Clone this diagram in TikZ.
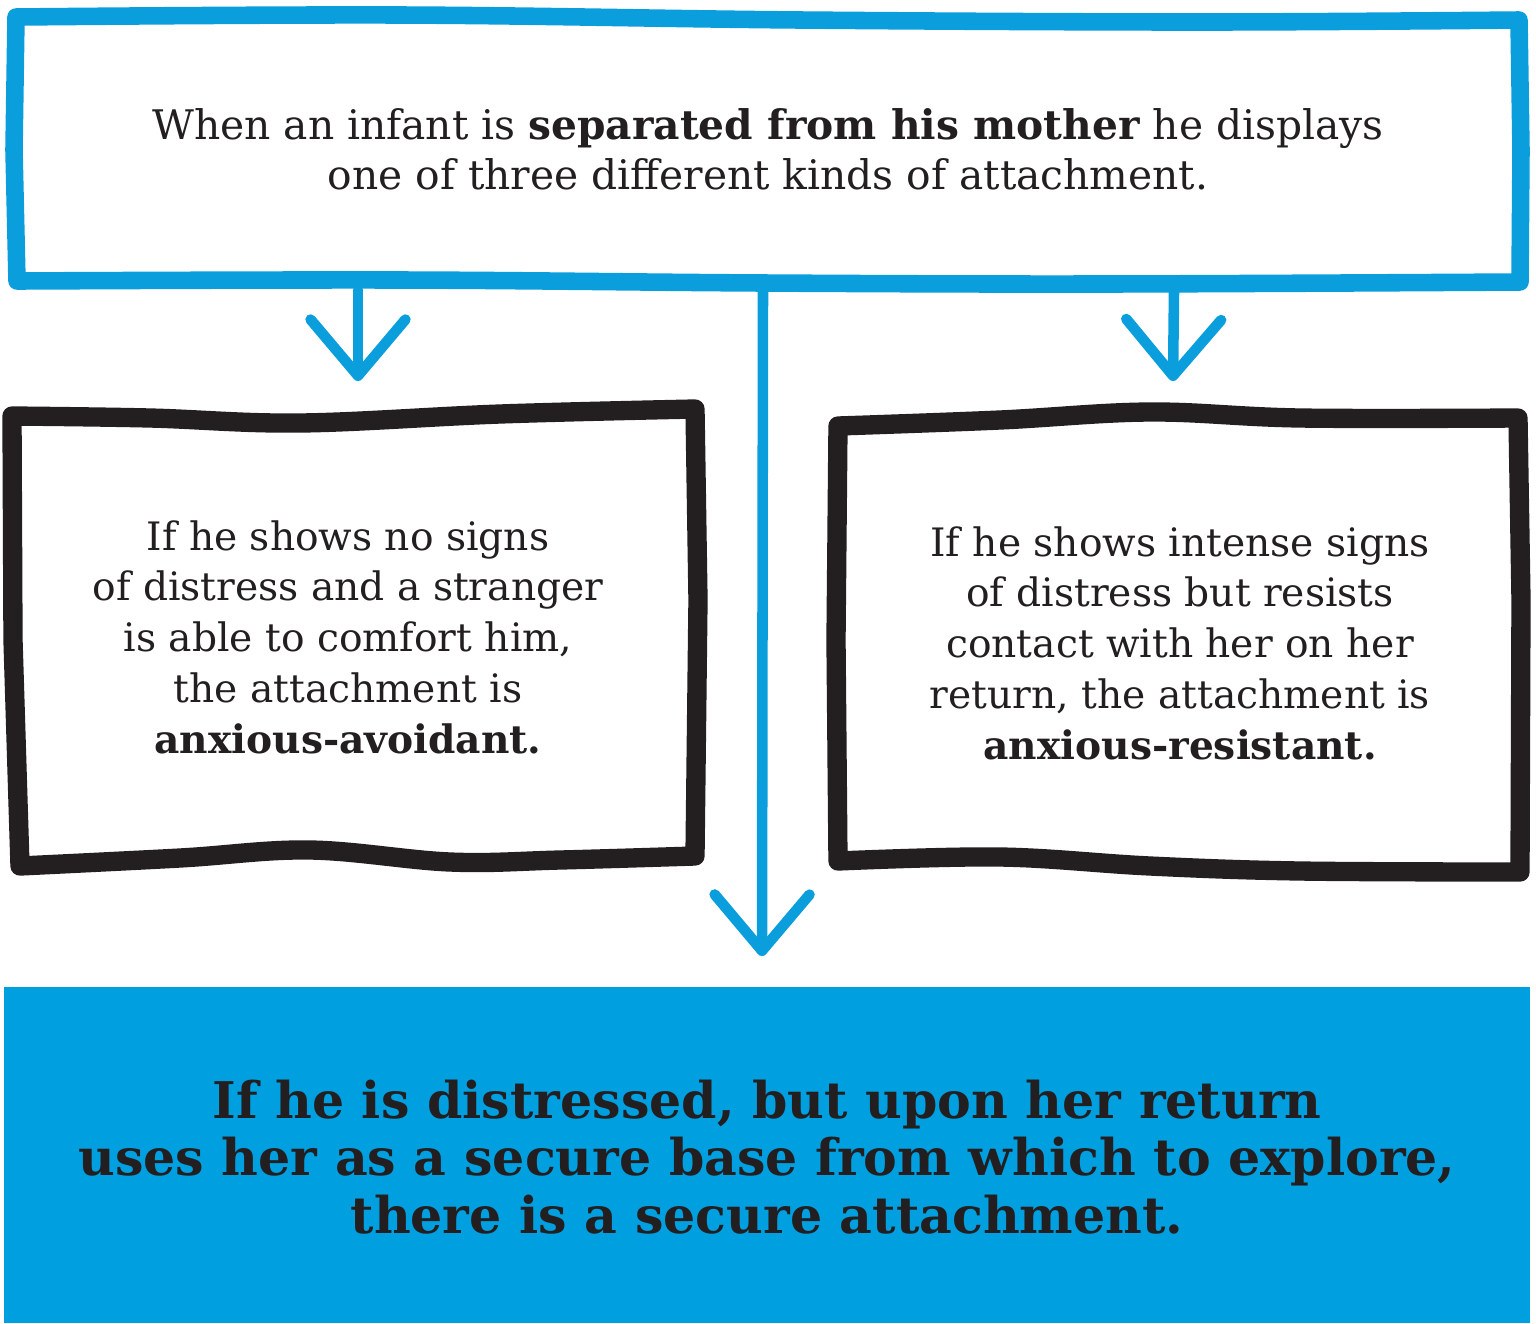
\documentclass[tikz,border=0pt]{standalone}
\usepackage{fontspec}
\setmainfont{DejaVu Serif}
\usetikzlibrary{arrows.meta}
\definecolor{cblue}{HTML}{0A9EDC}
\definecolor{bfill}{HTML}{009FDF}
\definecolor{ink}{HTML}{231F20}
\tikzset{
  bluebox/.style={draw=cblue, line width=10pt, line join=round, line cap=round},
  blackbox/.style={draw=ink, line width=11pt, line join=round, line cap=round},
  flow/.style={draw=cblue, line width=6pt, line cap=round,
    -{Straight Barb[length=32pt,width=54pt,round,line width=6pt]}},
  txt/.style={text=ink, align=center, inner sep=0pt, font=\fontsize{22.3}{28.9}\selectfont},
  bigtxt/.style={text=ink, align=center, inner sep=0pt, font=\fontsize{28.8}{32.6}\selectfont\bfseries},
}
\begin{document}
\begin{tikzpicture}[x=0.02cm,y=-0.02cm]
\useasboundingbox (0,0) rectangle (1536,1323);
% top blue box
\draw[bluebox] (16,17) -- plot[smooth,tension=.6] coordinates {(16,17) (400,15) (800,20) (1200,22) (1519,20)}
  -- (1521,150) -- (1520,282) -- plot[smooth,tension=.6] coordinates {(1520,282) (1100,284) (763,283) (400,280) (17,281)}
  -- (14,150) -- cycle;
\node[txt, font=\fontsize{23.2}{28.5}\selectfont] (top) at (768,149)
  {When an infant is \textbf{separated from his mother} he displays\\one of three different kinds of attachment.};
% left black box
\draw[blackbox] (12,416) -- plot[smooth,tension=.6] coordinates {(12,416) (150,418) (300,423) (500,414) (695,409)}
  -- (698,600) -- (695,856) -- plot[smooth,tension=.6] coordinates {(695,856) (560,860) (450,862) (310,850) (180,858) (20,866)}
  -- (13,640) -- cycle;
\node[txt] (left) at (348,637)
  {If he shows no signs\\of distress and a stranger\\is able to comfort him,\\the attachment is\\\textbf{anxious-avoidant.}};
% right black box
\draw[blackbox] (838,426) -- plot[smooth,tension=.6] coordinates {(838,426) (1000,420) (1150,412) (1300,418) (1518,418)}
  -- (1521,600) -- (1520,872) -- plot[smooth,tension=.6] coordinates {(1520,872) (1300,871) (1150,866) (1000,857) (838,861)}
  -- (836,640) -- cycle;
\node[txt] (right) at (1180,643)
  {If he shows intense signs\\of distress but resists\\contact with her on her\\return, the attachment is\\\textbf{anxious-resistant.}};
% bottom blue box
\fill[bfill] (4,987) rectangle (1530,1323);
\node[bigtxt] (bottom) at (767,1157)
  {If he is distressed, but upon her return\\uses her as a secure base from which to explore,\\there is a secure attachment.};
% arrows
\coordinate (s1) at (358,290);
\coordinate (t1) at (358,381);
\coordinate (s2) at (763,288);
\coordinate (t2) at (762,956);
\coordinate (s3) at (1174,292);
\coordinate (t3) at (1173,381);
\draw[flow] (s1) -- (t1);
\draw[flow] (s2) -- (t2);
\draw[flow] (s3) -- (t3);
\end{tikzpicture}
\end{document}
